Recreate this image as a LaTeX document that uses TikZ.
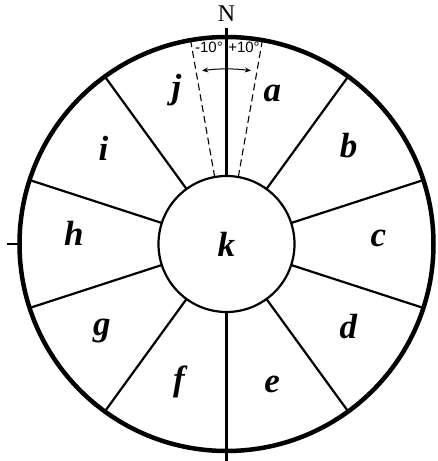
\documentclass[tikz,border=0pt]{standalone}
\usepackage{fontspec}
\setmainfont{Liberation Serif}
\newfontfamily\degfont{Liberation Sans}
\usetikzlibrary{arrows.meta}

\begin{document}
\begin{tikzpicture}[x=1pt,y=1pt,
  zone/.style={font=\fontsize{35}{35}\selectfont\bfseries\itshape,inner sep=0pt},
  spoke/.style={draw=black,line width=2.2pt},
  bound/.style={draw=black,line width=1.1pt,dash pattern=on 7pt off 4pt},
  sweep/.style={{Stealth[length=6pt,width=5pt]}-{Stealth[length=6pt,width=5pt]},line width=1pt},
  deg/.style={font=\degfont\fontsize{15}{15}\selectfont,inner sep=0pt}
]
\useasboundingbox (-226.5,-217) rectangle (211.5,244);
\node[circle,draw,line width=4.5pt,minimum size=414pt,outer sep=0pt] (rim) at (0,0) {};
\node[circle,draw,line width=2.2pt,minimum size=136pt,outer sep=0pt,zone] (k) at (0,0) {k};
% sector borders
\foreach \ang in {90,54,18,-18,-54,-90,-126,-162,162,126}
  \draw[spoke] (k.\ang) -- (rim.\ang);
% compass ticks
\coordinate (ntick) at (90:216);
\coordinate (stick) at (270:220);
\coordinate (wtick) at (180:219);
\draw[spoke] (rim.90) -- (ntick);
\draw[spoke] (rim.270) -- (stick);
\draw[line width=1.6pt] (rim.180) -- (wtick);
\node[font=\fontsize{24}{24}\selectfont,inner sep=0pt] (N) at (0,230) {N};
% tolerance band
\foreach \ang in {80,100}
  \draw[bound] (k.\ang) -- (rim.\ang);
\coordinate (swL) at (98:175);
\draw[sweep] (swL) arc[start angle=98,end angle=82,radius=175];
\node[deg] (minus) at (-17.5,197) {-10°};
\node[deg] (plus) at (17.5,197) {+10°};
% sector letters
\foreach \name/\ang/\rad in {a/73/157,b/39/157,c/2/152,d/-34/147,e/-72/148,
    f/-109/146,g/-145/152,h/176/153,i/142/156,j/108/162}
  \node[zone] (\name) at (\ang:\rad) {\name};
\end{tikzpicture}
\end{document}
